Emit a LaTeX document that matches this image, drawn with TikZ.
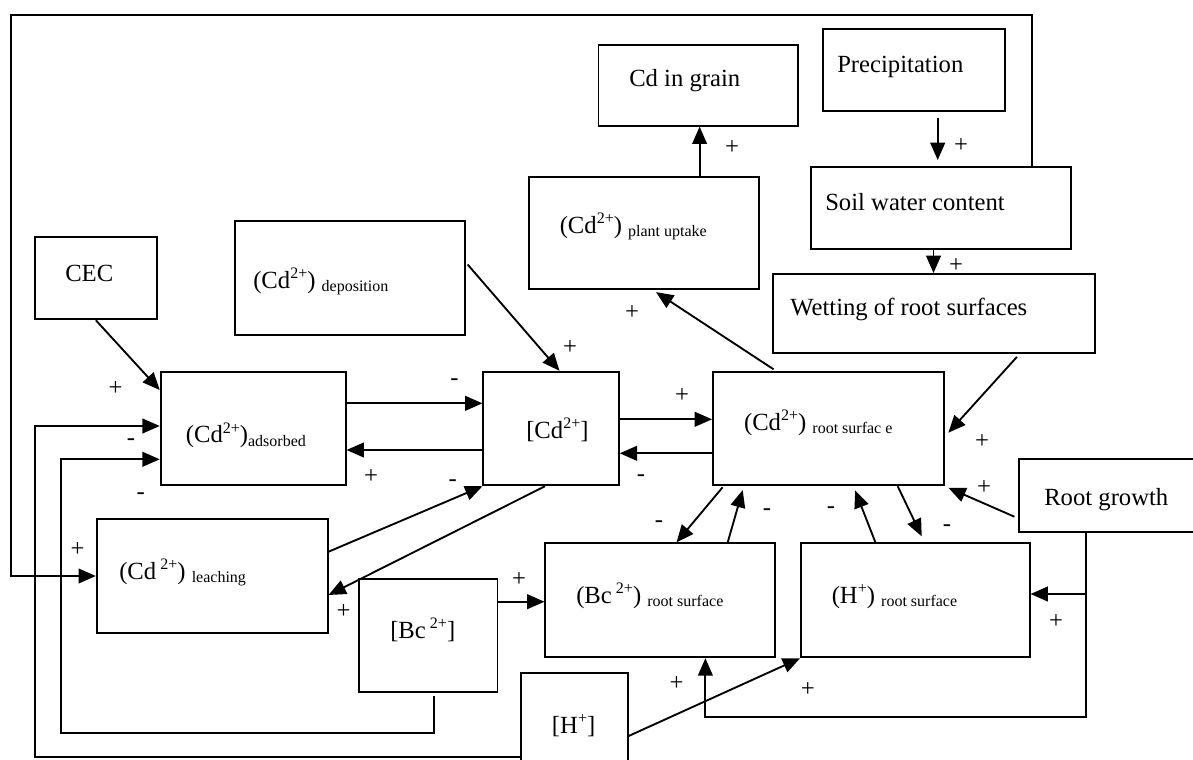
\documentclass[tikz,border=0pt]{standalone}
\usepackage{fontspec}
\setmainfont{Liberation Serif}
\usetikzlibrary{arrows.meta,fit}
\newcommand\sps[1]{\raisebox{0.8ex}{\fontsize{12}{12}\selectfont #1}}
\newcommand\sbs[1]{\raisebox{-0.35ex}{\fontsize{12}{12}\selectfont #1}}
\begin{document}
\begin{tikzpicture}[x=0.75pt,y=-0.75pt,
 box/.style={draw, line width=1.4pt, inner sep=0pt},
 txt/.style={anchor=base west, inner sep=0pt, font=\fontsize{18.5}{20}\selectfont},
 sgn/.style={inner sep=0pt, font=\fontsize{18.5}{20}\selectfont},
 arr/.style={line width=1.4pt, -{Triangle[length=13pt,width=11pt]}},
 ln/.style={line width=1.4pt}]
\clip (0,0) rectangle (1193,760);
\fill[white] (0,0) rectangle (1193,760);
% boxes
\node[box, fit={(34.8,237.3) (156.9,319.3)}] (cec) {};
\node[box, fit={(235,221.3) (465.4,335)}] (dep) {};
\node[box, fit={(529,177) (759,289)}] (upt) {};
\node[box, fit={(598.5,45) (797.7,125.7)}] (grain) {};
\node[box, fit={(823,29) (1005,111)}] (precip) {};
\node[box, fit={(810.8,167) (1071,249)}] (soil) {};
\node[box, fit={(773,274) (1095,353)}] (wet) {};
\node[box, fit={(160.7,371.7) (345.6,485.3)}] (ads) {};
\node[box, fit={(483.4,371.7) (618.8,485.3)}] (cd) {};
\node[box, fit={(713,371.7) (943.8,485.3)}] (root) {};
\node[box, fit={(1019,459.3) (1200,531.7)}] (rg) {};
\node[box, fit={(96.8,519.3) (327.6,633.3)}] (leach) {};
\node[box, fit={(359,579.3) (497.5,691.7)}] (bc) {};
\node[box, fit={(545.4,543.3) (775.4,657.3)}] (bcroot) {};
\node[box, fit={(801,543.3) (1029.6,657.3)}] (hroot) {};
\node[box, fit={(521,673.3) (627.7,770)}] (h) {};
% texts
\node[txt] (cecT) at (65,281) {CEC};
\node[txt] (depT) at (253,288) {(Cd\sps{2+}) \sbs{deposition}};
\node[txt] (uptT) at (559.5,233) {(Cd\sps{2+}) \sbs{plant uptake}};
\node[txt] (grainT) at (629,86) {Cd in grain};
\node[txt] (precipT) at (837,72) {Precipitation};
\node[txt] (soilT) at (825,210) {Soil water content};
\node[txt] (wetT) at (790,315.7) {Wetting of root surfaces};
\node[txt] (adsT) at (185.6,442.7) {(Cd\sps{2+})\sbs{adsorbed}};
\node[txt] (cdT) at (526,438) {[Cd\sps{2+}]};
\node[txt] (rootT) at (743.8,430) {(Cd\sps{2+}) \sbs{root surfac e}};
\node[txt] (leachT) at (119,579) {(Cd\,\sps{2+}) \sbs{leaching}};
\node[txt] (bcT) at (390,638) {[Bc\,\sps{2+}]};
\node[txt] (bcrootT) at (576,603) {(Bc\,\sps{2+}) \sbs{root surface}};
\node[txt] (hrootT) at (831.5,603) {(H\sps{+}) \sbs{root surface}};
\node[txt] (rgT) at (1044,505) {Root growth};
\node[txt] (hT) at (551.7,733) {[H\sps{+}]};
% connectors
\draw[arr] (cec.south) -- (ads.west |- 0,390);
\draw[arr, shorten <=1.5pt] (dep.east |- 0,263) -- (cd.north -| 559.5,0);
\draw[arr] (ads.east |- 0,403.3) -- (cd.west |- 0,403.3);
\draw[arr] (cd.west |- 0,450) -- (ads.east |- 0,450);
\draw[arr] (leach.east |- 0,551.7) -- (cd.south west);
\draw[arr] (cd.south -| 545,0) -- (leach.east |- 0,595);
\draw[arr] (bc.east |- 0,601.7) -- (bcroot.west |- 0,601.7);
\draw[arr] (cd.east |- 0,419.3) -- (root.west |- 0,419.3);
\draw[arr] (root.west |- 0,453.3) -- (cd.east |- 0,453.3);
\draw[arr, shorten <=2pt, shorten >=3pt] (root.north -| 775.8,0) -- (upt.south -| 652.7,0);
\draw[arr] (upt.north -| 699.6,0) -- (grain.south -| 699.6,0);
\draw[arr, shorten <=4.5pt, shorten >=4.5pt] (precip.south -| 937.7,0) -- (soil.north -| 937.7,0);
\draw[arr] (soil.south -| 933.5,0) -- (wet.north -| 933.5,0);
\draw[arr, shorten <=3pt, shorten >=4pt] (wet.south -| 1019.6,0) -- (root.east |- 0,436.7);
\draw[arr, shorten <=3pt, shorten >=3pt] (rg.west |- 0,518.3) -- (root.south east);
\draw[arr, shorten <=1pt] (root.south -| 723.5,0) -- (bcroot.north -| 676.5,0);
\draw[arr, shorten >=3pt] (bcroot.north -| 727.7,0) -- (root.south -| 743.8,0);
\draw[arr, shorten >=3.5pt] (hroot.north -| 875.4,0) -- (root.south -| 853.5,0);
\draw[arr, shorten >=5pt] (root.south -| 897.7,0) -- (hroot.north -| 924.6,0);
\coordinate (rgc) at (1085.7,717.3);
\draw[arr] (rg.south -| rgc) -- (rgc) -| (bcroot.south -| 705.4,0);
\draw[arr] (rgc |- 0,594) -- (hroot.east |- 0,594);
\draw[arr] (h.east |- 0,736) -- (hroot.south west);
\coordinate (hl) at (35.2,426);
\draw[arr] (h.west |- 0,756.7) -| (hl) -- (ads.west |- hl);
\coordinate (bcd) at (433.6,733.3);
\coordinate (bcl) at (61.2,459.3);
\draw[arr, shorten <=2.5pt] (bc.south -| bcd) -- (bcd) -| (bcl) -- (ads.west |- bcl);
\coordinate (ftr) at (1032,15);
\coordinate (ftl) at (10.7,15);
\coordinate (fbl) at (10.7,576);
\draw[arr] (soil.north -| ftr) -- (ftr) -- (ftl) -- (fbl) -- (leach.west |- fbl);
% signs
\node[sgn] (s1) at (115.6,388.3) {+};
\node[sgn] (s2) at (570,348) {+};
\node[sgn] (s3) at (454.6,381.7) {-};
\node[sgn] (s4) at (371,477) {+};
\node[sgn] (s5) at (452.7,483.3) {-};
\node[sgn] (s6) at (343.7,611.7) {+};
\node[sgn] (s7) at (519,579.3) {+};
\node[sgn] (s8) at (682,396) {+};
\node[sgn] (s9) at (641,478) {-};
\node[sgn] (s10) at (632,313) {+};
\node[sgn] (s11) at (732,148) {+};
\node[sgn] (s12) at (961,146) {+};
\node[sgn] (s13) at (956,266) {+};
\node[sgn] (s14) at (982,441.7) {+};
\node[sgn] (s15) at (984,487.3) {+};
\node[sgn] (s16) at (659,524) {-};
\node[sgn] (s17) at (767,511.7) {-};
\node[sgn] (s18) at (831,510) {-};
\node[sgn] (s19) at (947,527.7) {-};
\node[sgn] (s20) at (1056,621.7) {+};
\node[sgn] (s21) at (676.5,683.3) {+};
\node[sgn] (s22) at (807.7,690) {+};
\node[sgn] (s23) at (131,441.7) {-};
\node[sgn] (s24) at (140.8,496) {-};
\node[sgn] (s25) at (77.7,550) {+};
\end{tikzpicture}
\end{document}
